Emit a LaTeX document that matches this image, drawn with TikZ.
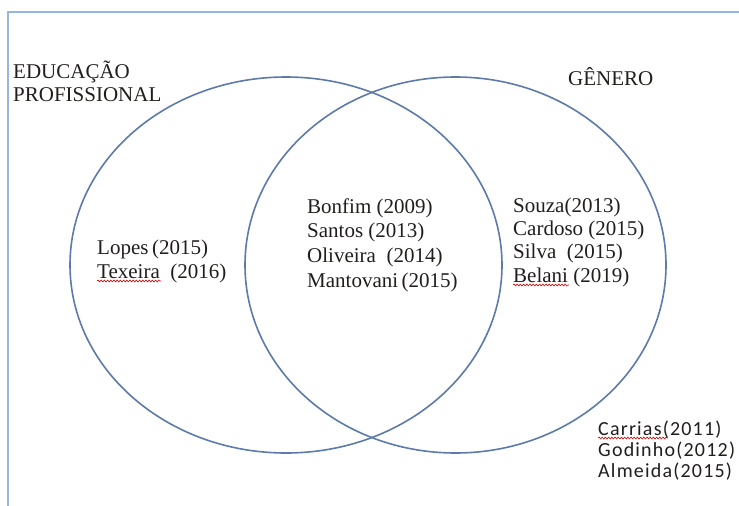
\documentclass[tikz,border=0pt]{standalone}
\usepackage{fontspec}
\setmainfont{Liberation Serif}
\newfontfamily\calib{Carlito}[LetterSpace=6]
\usetikzlibrary{decorations.pathmorphing}
\definecolor{framec}{RGB}{150,182,225}
\definecolor{circc}{RGB}{92,122,170}
\definecolor{txt}{RGB}{35,30,30}
\tikzset{
  lbl/.style={anchor=base west, inner sep=0pt, text=txt, font=\fontsize{21}{23}\selectfont},
  sans/.style={anchor=base west, inner sep=0pt, text=txt, font=\calib\fontsize{20}{22}\selectfont},
  venn/.style={draw=circc, line width=1.6pt},
  wavy/.style={draw=red!85!black, line width=0.6pt, decorate, decoration={snake, amplitude=0.9pt, segment length=3.2pt}}
}
\begin{document}
\begin{tikzpicture}[x=1pt,y=-1pt]
\useasboundingbox (0,0) rectangle (739,506);
\fill[white] (0,0) rectangle (739,506);
% frame
\draw[framec, line width=2pt] (8,510) -- (8,12) -- (745,12);
% circles
\draw[venn] (286,265) ellipse [x radius=216, y radius=188];
\draw[venn] (455.5,265) ellipse [x radius=210.5, y radius=188];
% titles
\node[lbl] (edu) at (13,78) {EDUCAÇÃO};
\node[lbl] (prof) at (13,101) {PROFISSIONAL};
\node[lbl] (gen) at (568,85) {GÊNERO};
% left
\node[lbl] (lopes) at (97,254) {Lopes\,(2015)};
\node[lbl] (tex) at (97,278) {Texeira\ \ (2016)};
% middle
\node[lbl] (bon) at (307,213) {Bonfim (2009)};
\node[lbl] (san) at (307,237) {Santos (2013)};
\node[lbl] (oli) at (307,262) {Oliveira\ \ (2014)};
\node[lbl] (man) at (307,287) {Mantovani\,(2015)};
% right
\node[lbl] (sou) at (513,212) {Souza(2013)};
\node[lbl] (car) at (513,235) {Cardoso (2015)};
\node[lbl] (sil) at (513,258) {Silva\ \ (2015)};
\node[lbl] (bel) at (513,282) {Belani (2019)};
% outside
\node[sans] (carr) at (598,435) {Carrias(2011)};
\node[sans] (god) at (598,456) {Godinho(2012)};
\node[sans] (alm) at (598,477) {Almeida(2015)};
% spell-check underlines
\draw[wavy] ([yshift=-3pt]tex.base west) -- ++(64,0);
\draw[wavy] ([yshift=-3pt]bel.base west) -- ++(56,0);
\draw[wavy] ([yshift=-3pt]carr.base west) -- ++(70,0);
\end{tikzpicture}
\end{document}
